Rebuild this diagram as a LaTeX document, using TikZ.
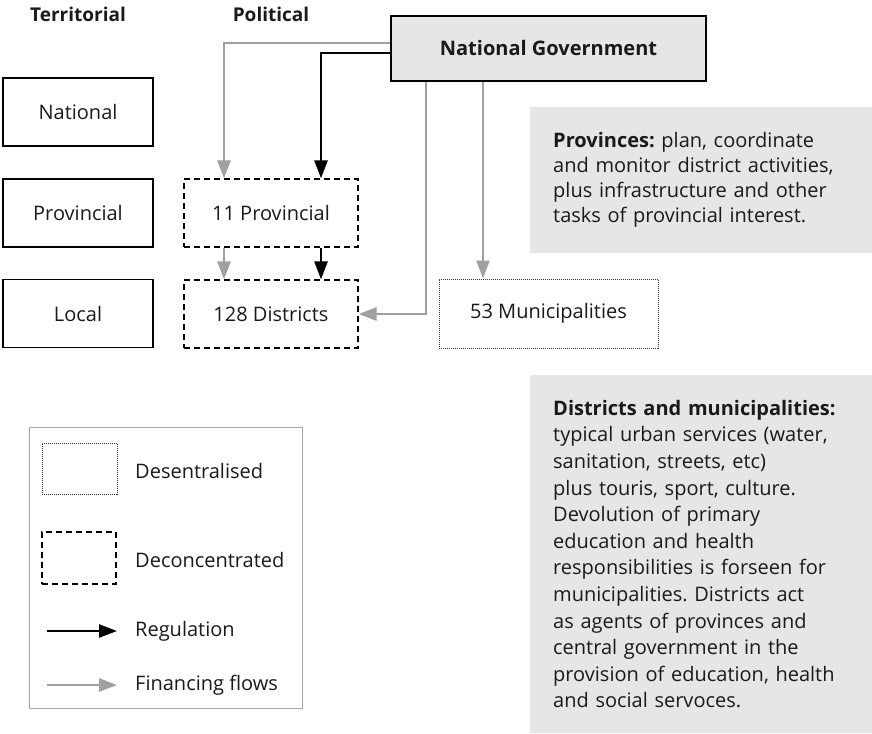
\documentclass[tikz,border=0pt]{standalone}
\usepackage{fontspec}
\setmainfont{Open Sans}
\usetikzlibrary{arrows.meta}
\definecolor{boxgray}{HTML}{E6E6E7}
\definecolor{flowgray}{HTML}{A0A0A0}
\definecolor{framegray}{HTML}{A6A6A6}
\definecolor{ink}{HTML}{1A1A1A}
\frenchspacing
\begin{document}
\begin{tikzpicture}[x=1pt,y=-1pt,
  every node/.style={text=ink, font=\fontsize{20}{26}\selectfont, inner sep=0pt},
  level/.style={draw=black, line width=1.2pt, minimum width=150pt, minimum height=68pt},
  deconc/.style={draw=black, line width=1.2pt, dash pattern=on 6pt off 4pt, minimum width=174pt, minimum height=68pt},
  decen/.style={draw=black!80, line width=1pt, dash pattern=on 1pt off 1pt, minimum width=219pt, minimum height=69pt},
  heading/.style={font=\fontsize{19}{24}\selectfont\bfseries},
  reg/.style={draw=black, line width=2.6pt, -{Triangle[length=18pt,width=13pt]}},
  fin/.style={draw=flowgray, line width=2.7pt, -{Triangle[length=18pt,width=13pt]}},
  note/.style={fill=boxgray, minimum width=342pt, text width=296pt, inner xsep=23pt, align=left, anchor=north west}
]
\useasboundingbox (0,0) rectangle (872,733);

% column headings
\node[heading] (hterr) at (78,14) {Territorial};
\node[heading] (hpol) at (271,14) {Political};

% territorial levels
\node[level] (lnat) at (78,112) {National};
\node[level] (lprov) at (78,213) {Provincial};
\node[level] (lloc) at (78,313.5) {Local};

% political bodies
\node[draw=black, fill=boxgray, line width=1.3pt, minimum width=315pt, minimum height=65pt,
      font=\fontsize{20}{26}\selectfont\bfseries] (ng) at (548.5,48.5) {National Government};
\node[deconc] (prov) at (271,213) {11 Provincial};
\node[deconc] (dist) at (271,314) {128 Districts};
\node[decen] (muni) at (548.5,313.5) {53 Municipalities};

% regulation and financing flows
\draw[fin] ([yshift=5.5pt]ng.west) -| ([xshift=-47pt]prov.north);
\draw[reg] ([yshift=-4.5pt]ng.west) -| ([xshift=50pt]prov.north);
\draw[fin] ([xshift=-47pt]prov.south) -- ([xshift=-47pt]dist.north);
\draw[reg] ([xshift=50pt]prov.south) -- ([xshift=50pt]dist.north);
\draw[fin] ([xshift=-122.5pt]ng.south) |- (dist.east);
\draw[fin] ([xshift=-65.5pt]ng.south) -- ([xshift=-65.5pt]muni.north);

% responsibilities
\node[note, minimum height=146pt, font=\fontsize{20}{25}\selectfont] (provnote) at (530,107)
  {\textbf{Provinces:} plan, coordinate\\
   and monitor district activities,\\
   plus infrastructure and other\\
   tasks of provincial interest.};
\node[note, minimum height=358pt, font=\fontsize{20}{26.6}\selectfont] (distnote) at (530,375)
  {\textbf{Districts and municipalities:}\\
   typical urban services (water,\\
   sanitation, streets, etc)\\
   plus touris, sport, culture.\\
   Devolution of primary\\
   education and health\\
   responsibilities is forseen for\\
   municipalities. Districts act\\
   as agents of provinces and\\
   central government in the\\
   provision of education, health\\
   and social servoces.};

% legend
\node[draw=framegray, line width=1.2pt, minimum width=273pt, minimum height=281pt, anchor=north west] (legend) at (29,427) {};
\node[decen, minimum width=75pt, minimum height=51pt] (kdecen) at (79.5,468.5) {};
\node[anchor=west] (tdecen) at (135,471) {Desentralised};
\node[deconc, minimum width=74pt, minimum height=52pt] (kdeconc) at (79,558) {};
\node[anchor=west] (tdeconc) at (135,560) {Deconcentrated};
\coordinate (rega) at (47,631);
\coordinate (regb) at (117,631);
\draw[reg] (rega) -- (regb);
\node[anchor=west] (treg) at (135,631) {Regulation};
\coordinate (fina) at (47,685);
\coordinate (finb) at (117,685);
\draw[fin] (fina) -- (finb);
\node[anchor=west] (tfin) at (135,685) {Financing flows};
\end{tikzpicture}
\end{document}
